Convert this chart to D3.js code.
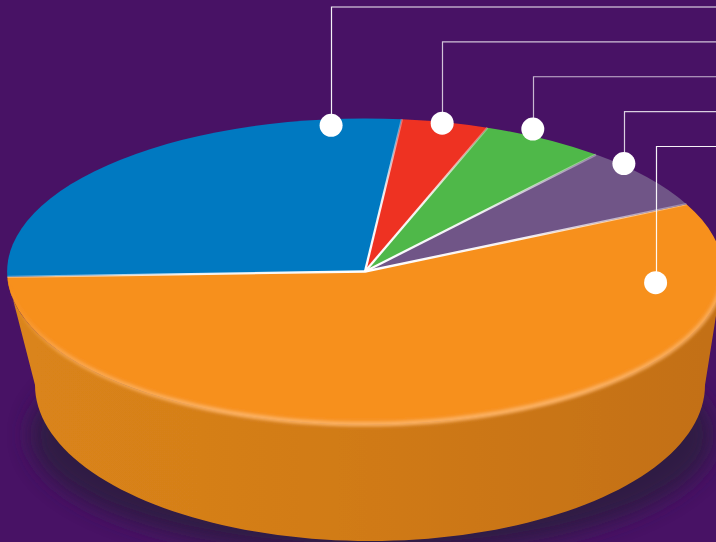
<!DOCTYPE html>
<html><head><meta charset="utf-8">
<script src="https://cdnjs.cloudflare.com/ajax/libs/d3/7.9.0/d3.min.js"></script>
<style>html,body{margin:0;padding:0;background:#481265;overflow:hidden}svg{display:block}</style>
</head><body><svg id="c" width="716" height="542"></svg>
<script>
// Data (share of the pie, %), clockwise from the orange slice
const sliceKeys   = ["orange", "blue", "red", "green", "purple"];
const sliceValues = [56.7, 27.2, 3.9, 5.6, 6.6];
const sliceColors = ["#f7901e", "#0079c1", "#ee3124", "#50b848", "#6f5587"];
// Callouts, top to bottom
const calloutKeys     = ["blue", "red", "green", "purple", "orange"];
const calloutAlong    = [0.8815, 0.47, 0.335, 0.235, 0.153];
const calloutRadius   = [0.96, 0.993, 1.042, 1.01, 0.815];
const calloutOpacity  = [0.95, 0.75, 0.7, 0.8, 0.95];

const W = 716, H = 542;
const top3d = {cx: 365, cy: 271.5, rx: 358, ry: 153};
const base3d = {cx: 370, cy: 385, rx: 335, ry: 156};
const svg = d3.select("#c");
const defs = svg.append("defs");

const blur = (id, s) => defs.append("filter").attr("id", id)
  .attr("x", "-20%").attr("y", "-20%").attr("width", "140%").attr("height", "140%")
  .attr("filterUnits", "objectBoundingBox")
  .append("feGaussianBlur").attr("stdDeviation", s);
blur("soft", 0.5); blur("shadow", 11); blur("glow", 1.6);

const linear = (id, x1, x2, stops) => {
  const g = defs.append("linearGradient").attr("id", id).attr("gradientUnits", "userSpaceOnUse")
    .attr("x1", x1).attr("x2", x2).attr("y1", 0).attr("y2", 0);
  stops.forEach(s => g.append("stop").attr("offset", s[0]).attr("stop-color", s[1]).attr("stop-opacity", s[2] ?? 1));
};
linear("wall", 35, 705, [[0, "#da841a"], [0.5, "#d07a18"], [1, "#c37016"]]);
linear("rim", 10, 716, [[0, "#fbb163", 0], [0.07, "#fbb163", 0.6], [0.3, "#fbb163", 0.95], [0.8, "#fbb163", 0.95], [1, "#fbb163", 0.75]]);
const rg = defs.append("radialGradient").attr("id", "seam").attr("gradientUnits", "userSpaceOnUse")
  .attr("cx", 0).attr("cy", 0).attr("r", 1);
[[0, 1], [0.5, 0.9], [1, 0.3]].forEach(s => rg.append("stop").attr("offset", s[0]).attr("stop-color", "#fff").attr("stop-opacity", s[1]));

// background
svg.append("rect").attr("width", W).attr("height", H).attr("fill", "#481265");

// unit-circle helpers: angle 0 = top, clockwise
const deg = d => d * Math.PI / 180;
const rimPoint = (e, t) => [e.cx + e.rx * Math.sin(t), e.cy - e.ry * Math.cos(t)];
const line = d3.line();

// shadow beneath the pie
svg.append("ellipse").attr("cx", 372).attr("cy", 435).attr("rx", 342).attr("ry", 120)
  .attr("fill", "#2f1a42").attr("opacity", 0.95).attr("filter", "url(#shadow)");

const chart = svg.append("g").attr("filter", "url(#soft)");

// side wall: tapered from the top rim down to the smaller base ellipse
const base = d3.range(90, 270.5, 2).map(a => rimPoint(base3d, deg(a)));
const topBack = d3.range(268, 89.5, -2).map(a => rimPoint(top3d, deg(a)));
chart.append("path").attr("d", line(base.concat(topBack)) + "Z").attr("fill", "url(#wall)");

// pie top
const pie = d3.pie().sort(null).value(d => d)
  .startAngle(deg(63.9)).endAngle(deg(63.9 + 360));
const slices = pie(sliceValues);
const arc = d3.arc().innerRadius(0).outerRadius(1);
const topG = chart.append("g")
  .attr("transform", `translate(${top3d.cx},${top3d.cy}) scale(${top3d.rx},${top3d.ry})`);
topG.selectAll("path.slice").data(slices).join("path").attr("class", "slice")
  .attr("d", arc).attr("fill", (d, i) => sliceColors[i]);

// white seams between slices
topG.selectAll("path.seam").data(slices).join("path").attr("class", "seam")
  .attr("d", d => line([[0, 0], [Math.sin(d.startAngle), -Math.cos(d.startAngle)]]))
  .attr("fill", "none").attr("stroke", "url(#seam)").attr("stroke-width", 2.3)
  .attr("vector-effect", "non-scaling-stroke");

// front rim highlight
const rim = d3.range(84, 268, 2).map(a => rimPoint({...top3d, cy: top3d.cy - 0.5}, deg(a)));
chart.append("path").attr("d", line(rim)).attr("fill", "none")
  .attr("stroke", "url(#rim)").attr("stroke-width", 5).attr("filter", "url(#glow)");

// callouts
const lineY = d3.scalePoint().domain(calloutKeys).range([7, 146.5]);
const callouts = svg.append("g");
calloutKeys.forEach((k, i) => {
  const s = slices[sliceKeys.indexOf(k)];
  const t = s.startAngle + (s.endAngle - s.startAngle) * calloutAlong[i];
  const r = calloutRadius[i];
  const [x, y] = rimPoint({...top3d, rx: top3d.rx * r, ry: top3d.ry * r}, t);
  const ly = lineY(k);
  callouts.append("path").attr("d", line([[W, ly], [Math.round(x) + 0.5, ly], [Math.round(x) + 0.5, y]]))
    .attr("fill", "none").attr("stroke", "#fff").attr("stroke-width", 1.2).attr("stroke-opacity", calloutOpacity[i]);
  callouts.append("circle").attr("cx", x).attr("cy", y).attr("r", 11.5).attr("fill", "#fff");
});
</script></body></html>
